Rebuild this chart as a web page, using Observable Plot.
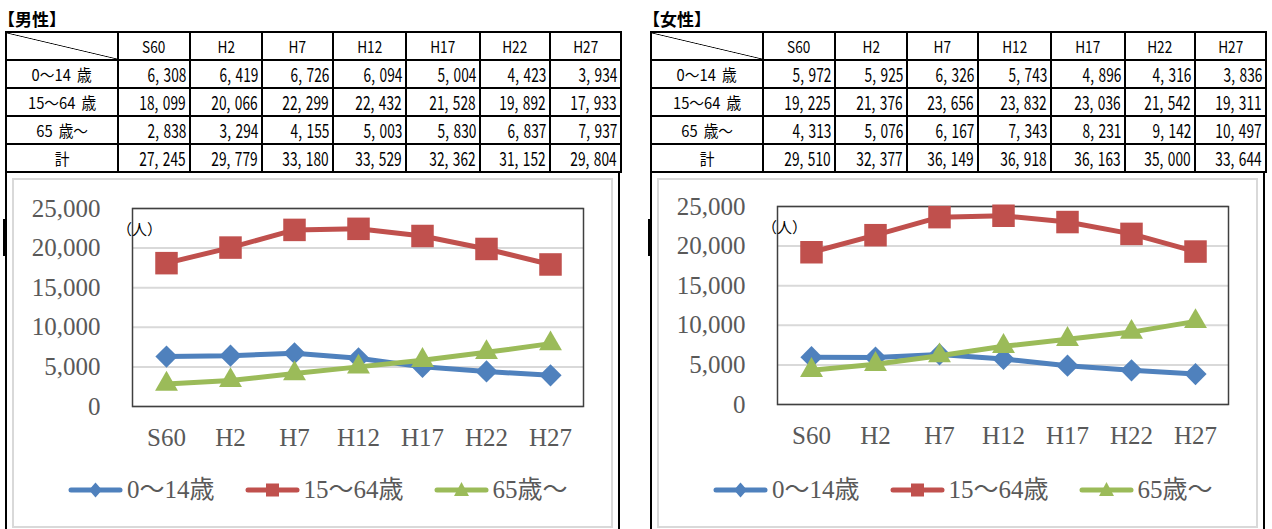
<!DOCTYPE html>
<html><head><meta charset="utf-8">
<script src="https://cdn.jsdelivr.net/npm/d3@7"></script>
<script src="https://cdn.jsdelivr.net/npm/@observablehq/plot@0.6"></script>
<style>
html,body{margin:0;padding:0;background:#fff;width:1272px;height:529px;overflow:hidden;}
.panel{position:absolute;top:0;width:630px;height:529px;}
.title{position:absolute;left:-2px;top:10px;font-family:"Noto Sans CJK JP";font-size:17px;font-weight:bold;line-height:18px;white-space:nowrap;}
table{position:absolute;left:5px;top:31px;border-collapse:collapse;table-layout:fixed;width:615px;font-family:"Noto Sans CJK JP";font-size:15px;color:#000;}
td{border:2px solid #000;height:26px;padding:0;line-height:26px;overflow:hidden;white-space:nowrap;}
td.lab{text-align:center;font-size:16px;word-spacing:3px;}
td.lab span{display:inline-block;transform:scale(0.92,1);}
td.hd{text-align:center;font-size:16px;}
td.hd span{display:inline-block;transform:scale(0.85,1);}
td.num{text-align:right;padding-right:3px;font-size:18.5px;}
td.num span{display:inline-block;transform:scale(0.74,1);transform-origin:100% 50%;word-spacing:2px;}
td.diag{background:linear-gradient(to top right, transparent calc(50% - 0.8px), #000 50%, transparent calc(50% + 0.8px));}
.box{position:absolute;left:5px;top:171px;width:611px;height:370px;border-left:2px solid #000;border-right:2px solid #000;}
.mark{position:absolute;left:3px;top:219px;width:4px;height:37px;background:#000;}
.area{position:absolute;left:12px;top:178px;width:601px;height:350px;box-sizing:border-box;border:2px solid #d9d9d9;}
.chart{position:absolute;left:12px;top:178px;}
.legend{position:absolute;left:68px;top:477px;height:26px;display:flex;align-items:center;white-space:nowrap;}
.item{display:flex;align-items:center;margin-right:30px;}
.item span{font-family:"Liberation Serif","Noto Sans CJK JP",serif;font-size:25px;color:#595959;margin-left:4px;line-height:26px;}
</style></head>
<body>
<script>
const categories = ["S60","H2","H7","H12","H17","H22","H27"];
const male0to14 = [6308,6419,6726,6094,5004,4423,3934];
const male15to64 = [18099,20066,22299,22432,21528,19892,17933];
const male65plus = [2838,3294,4155,5003,5830,6837,7937];
const maleTotal = [27245,29779,33180,33529,32362,31152,29804];
const female0to14 = [5972,5925,6326,5743,4896,4316,3836];
const female15to64 = [19225,21376,23656,23832,23036,21542,19311];
const female65plus = [4313,5076,6167,7343,8231,9142,10497];
const femaleTotal = [29510,32377,36149,36918,36163,35000,33644];
const rowLabels = ["0～14 歳","15～64 歳","65 歳～","計"];
const seriesNames = ["0～14歳","15～64歳","65歳～"];
const yTicks = [0,5000,10000,15000,20000,25000];
const unitLabel = "（人）";
const panelTitles = ["【男性】","【女性】"];

const seriesColors = ["#4F81BD","#C0504D","#9BBB59"];
const seriesSymbols = ["diamond2","square","triangle"];
const symbolR = [10, 12.7, 8.5];
const colWidths = [112,72,72,71,73,74,70,71];

const fmtNum = v => d3.format(",")(v).replace(",", ", ");

function makePanel(offsetX, dy, title, series, total){
  const p = document.createElement("div");
  p.className = "panel";
  p.style.left = offsetX + "px";
  document.body.appendChild(p);

  const t = document.createElement("div");
  t.className = "title"; t.textContent = title; p.appendChild(t);

  const tb = document.createElement("table");
  const cg = document.createElement("colgroup");
  colWidths.forEach(w => { const c = document.createElement("col"); c.style.width = w + "px"; cg.appendChild(c); });
  tb.appendChild(cg);
  const hr = tb.insertRow();
  const d0 = hr.insertCell(); d0.className = "diag";
  categories.forEach(c => { const td = hr.insertCell(); td.className = "hd"; const s = document.createElement("span"); s.textContent = c; td.appendChild(s); });
  [...series, total].forEach((arr, i) => {
    const r = tb.insertRow();
    const l = r.insertCell(); l.className = "lab"; const ls = document.createElement("span"); ls.textContent = rowLabels[i]; l.appendChild(ls);
    arr.forEach(v => { const td = r.insertCell(); td.className = "num"; const s = document.createElement("span"); s.textContent = fmtNum(v); td.appendChild(s); });
  });
  p.appendChild(tb);

  const box = document.createElement("div"); box.className = "box"; p.appendChild(box);
  const mk = document.createElement("div"); mk.className = "mark"; p.appendChild(mk);
  const area = document.createElement("div"); area.className = "area"; p.appendChild(area);

  const rows = series.flatMap((arr, i) => arr.map((v, j) => ({cat: categories[j], value: v, series: seriesNames[i]})));
  const marks = [
    Plot.ruleY(yTicks, {stroke: "#d9d9d9", strokeWidth: 2}),
    Plot.frame({stroke: "#404040", strokeWidth: 1.5})
  ];
  seriesNames.forEach((s, i) => {
    const d = rows.filter(r => r.series === s);
    marks.push(Plot.line(d, {x: "cat", y: "value", stroke: seriesColors[i], strokeWidth: 5, strokeLinejoin: "round", strokeLinecap: "round"}));
    marks.push(Plot.dot(d, {x: "cat", y: "value", symbol: seriesSymbols[i], r: symbolR[i], fill: seriesColors[i], stroke: "none"}));
  });
  marks.push(Plot.text([unitLabel], {text: d => d, frameAnchor: "top-left", dx: 7, dy: 16, textAnchor: "middle", fill: "#000", fontSize: 15, fontFamily: "Noto Sans CJK JP"}));

  const svg = Plot.plot({
    width: 601, height: 349,
    marginLeft: 120, marginRight: 30, marginTop: 30 + dy, marginBottom: 121 - dy,
    x: {type: "point", domain: categories, padding: 0.5, tickSize: 0, tickPadding: 22, label: null},
    y: {domain: [0, 25000], ticks: yTicks, tickFormat: d3.format(","), tickSize: 0, tickPadding: 32, label: null},
    style: {fontFamily: "'Liberation Serif', serif", fontSize: "25px", color: "#595959", background: "transparent", overflow: "visible"},
    marks
  });
  const wrap = document.createElement("div"); wrap.className = "chart"; wrap.appendChild(svg); p.appendChild(wrap);

  const lg = document.createElement("div"); lg.className = "legend"; p.appendChild(lg);
  seriesNames.forEach((s, i) => {
    const it = document.createElement("div"); it.className = "item";
    const c = seriesColors[i];
    let m = "";
    if (i === 0) m = `<polygon points="27.5,4.5 34,12 27.5,19.5 21,12" fill="${c}"/>`;
    if (i === 1) m = `<rect x="21" y="5.5" width="13" height="13" fill="${c}"/>`;
    if (i === 2) m = `<polygon points="27.5,4 35,18 20,18" fill="${c}"/>`;
    it.innerHTML = `<svg width="55" height="24" viewBox="0 0 55 24"><line x1="3" y1="12" x2="52" y2="12" stroke="${c}" stroke-width="5" stroke-linecap="round"/>${m}</svg><span>${s}</span>`;
    lg.appendChild(it);
  });
}

makePanel(0, 0, panelTitles[0], [male0to14, male15to64, male65plus], maleTotal);
makePanel(645, -2, panelTitles[1], [female0to14, female15to64, female65plus], femaleTotal);
</script>
</body></html>
